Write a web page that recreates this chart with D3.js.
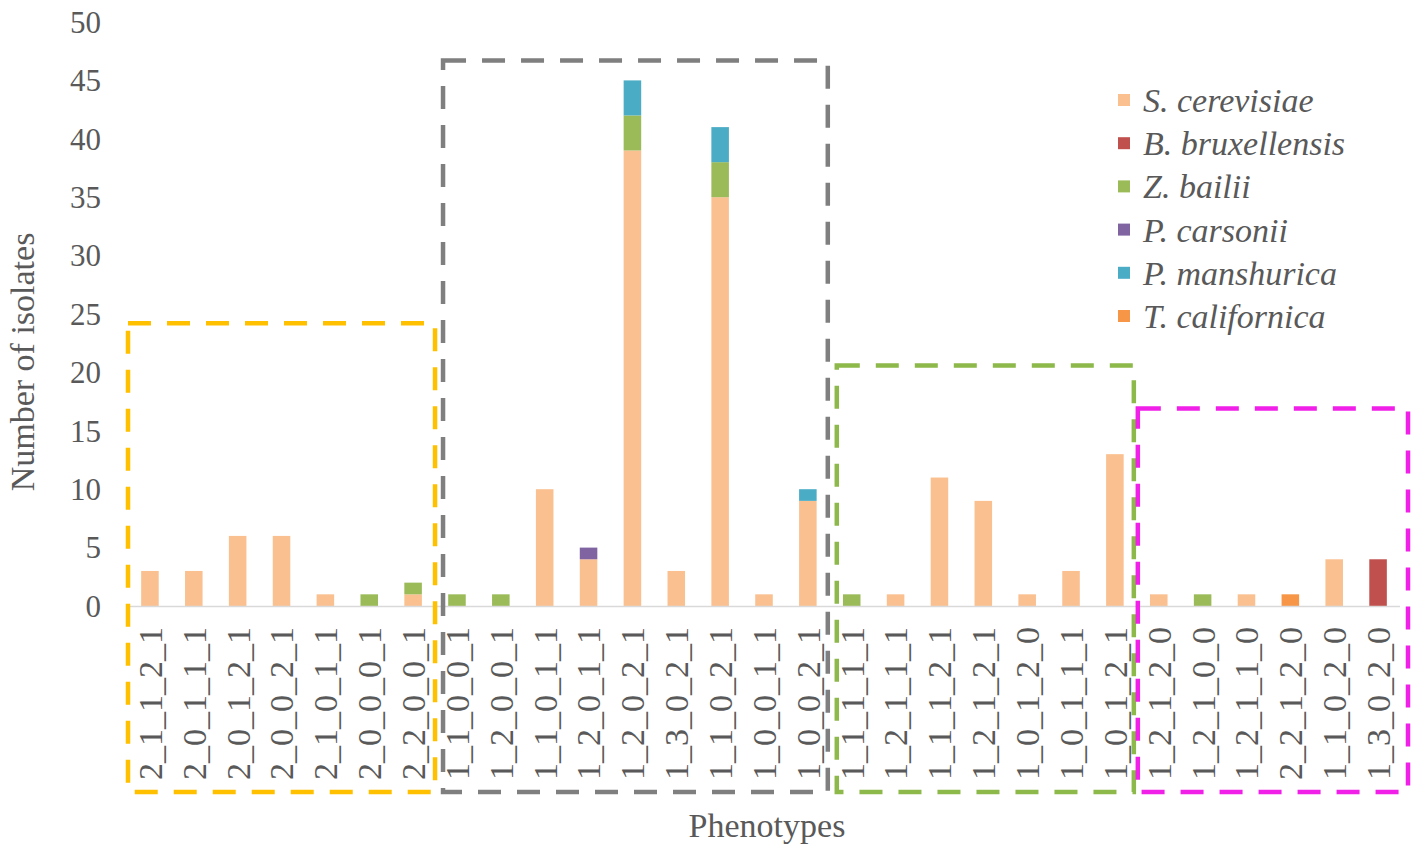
<!DOCTYPE html>
<html>
<head>
<meta charset="utf-8">
<script src="https://cdn.jsdelivr.net/npm/d3@7"></script>
<style>
  body { margin: 0; background: #fff; }
  svg text { font-family: "Liberation Serif", "Times New Roman", serif; fill: #595959; }
</style>
</head>
<body>
<svg id="chart" width="1418" height="851"></svg>
<script>
// Phenotype codes, in the order they appear on the x axis
const phenotypes = [
	"2_1_1_2_1", "2_0_1_1_1", "2_0_1_2_1", "2_0_0_2_1", "2_1_0_1_1", "2_0_0_0_1", "2_2_0_0_1",
	"1_1_0_0_1", "1_2_0_0_1", "1_1_0_1_1", "1_2_0_1_1", "1_2_0_2_1", "1_3_0_2_1", "1_1_0_2_1", "1_0_0_1_1", "1_0_0_2_1",
	"1_1_1_1_1", "1_2_1_1_1", "1_1_1_2_1", "1_2_1_2_1", "1_0_1_2_0", "1_0_1_1_1", "1_0_1_2_1",
	"1_2_1_2_0", "1_2_1_0_0", "1_2_1_1_0", "2_2_1_2_0", "1_1_0_2_0", "1_3_0_2_0"
];

const species = ["S. cerevisiae", "B. bruxellensis", "Z. bailii", "P. carsonii", "P. manshurica", "T. californica"];

// Number of isolates per species, one value per phenotype
const sCerevisiae   = [3, 3, 6, 6, 1, 0, 1,  0, 0, 10, 4, 39, 3, 35, 1, 9,  0, 1, 11, 9, 1, 3, 13,  1, 0, 1, 0, 4, 0];
const bBruxellensis = [0, 0, 0, 0, 0, 0, 0,  0, 0, 0, 0, 0, 0, 0, 0, 0,    0, 0, 0, 0, 0, 0, 0,    0, 0, 0, 0, 0, 4];
const zBailii       = [0, 0, 0, 0, 0, 1, 1,  1, 1, 0, 0, 3, 0, 3, 0, 0,    1, 0, 0, 0, 0, 0, 0,    0, 1, 0, 0, 0, 0];
const pCarsonii     = [0, 0, 0, 0, 0, 0, 0,  0, 0, 0, 1, 0, 0, 0, 0, 0,    0, 0, 0, 0, 0, 0, 0,    0, 0, 0, 0, 0, 0];
const pManshurica   = [0, 0, 0, 0, 0, 0, 0,  0, 0, 0, 0, 3, 0, 3, 0, 1,    0, 0, 0, 0, 0, 0, 0,    0, 0, 0, 0, 0, 0];
const tCalifornica  = [0, 0, 0, 0, 0, 0, 0,  0, 0, 0, 0, 0, 0, 0, 0, 0,    0, 0, 0, 0, 0, 0, 0,    0, 0, 0, 1, 0, 0];

const yTicks = [0, 5, 10, 15, 20, 25, 30, 35, 40, 45, 50];

// Phenotype groups framed by dashed boxes: first/last index and box top (in isolates)
const groupStart = [0, 7, 16, 23];
const groupEnd   = [6, 15, 22, 28];
const groupTop   = [24.2, 46.7, 20.6, 16.9];

const colors = ["#FAC090", "#C0504D", "#9BBB59", "#8064A2", "#4BACC6", "#F79646"];
const boxColors = ["#FFC000", "#7F7F7F", "#8DB84A", "#F020E8"];
const boxInset = [[0, 0], [8, -2], [7, -3], [1, 8]]; // hand-drawn look

const plot = {left: 128, right: 1400, top: 22, bottom: 606};

const svg = d3.select("#chart");

const x = d3.scaleBand()
		.domain(phenotypes)
		.range([plot.left, plot.right])
		.paddingInner(0.6)
		.paddingOuter(0.3);

const y = d3.scaleLinear()
		.domain([0, 50])
		.range([plot.bottom, plot.top]);

// Build rows for the stack
const table = phenotypes.map((p, i) => ({
	phenotype: p,
	"S. cerevisiae": sCerevisiae[i],
	"B. bruxellensis": bBruxellensis[i],
	"Z. bailii": zBailii[i],
	"P. carsonii": pCarsonii[i],
	"P. manshurica": pManshurica[i],
	"T. californica": tCalifornica[i]
}));

const stacked = d3.stack().keys(species)(table);

// Y tick labels (no axis line)
svg.append("g")
	.selectAll("text")
	.data(yTicks)
	.enter()
	.append("text")
		.attr("x", 101)
		.attr("y", d => y(d))
		.attr("dy", "0.35em")
		.attr("text-anchor", "end")
		.style("font-size", "31px")
		.text(d => d);

// Bars
svg.append("g")
	.selectAll("g")
	.data(stacked)
	.enter()
	.append("g")
		.attr("fill", (d, i) => colors[i])
	.selectAll("rect")
	.data(d => d)
	.enter()
	.append("rect")
		.attr("x", d => x(d.data.phenotype))
		.attr("width", x.bandwidth())
		.attr("y", d => y(d[1]))
		.attr("height", d => y(d[0]) - y(d[1]));

// Category axis line
svg.append("line")
	.attr("x1", plot.left)
	.attr("x2", plot.right)
	.attr("y1", y(0) + 0.5)
	.attr("y2", y(0) + 0.5)
	.attr("stroke", "#D9D9D9")
	.attr("stroke-width", 1.5);

// Rotated phenotype labels
svg.append("g")
	.selectAll("text")
	.data(phenotypes)
	.enter()
	.append("text")
		.attr("transform", d => `translate(${x(d) + x.bandwidth() / 2}, 627) rotate(-90)`)
		.attr("dy", "0.35em")
		.attr("text-anchor", "end")
		.style("font-size", "34px")
		.text(d => d);

// Dashed group boxes
const step = x.step();
svg.append("g")
	.selectAll("rect")
	.data(groupStart)
	.enter()
	.append("rect")
		.attr("x", (s, i) => plot.left + step * s + boxInset[i][0])
		.attr("y", (s, i) => y(groupTop[i]))
		.attr("width", (s, i) => step * (groupEnd[i] + 1 - s) - boxInset[i][0] + boxInset[i][1])
		.attr("height", (s, i) => 792 - y(groupTop[i]))
		.attr("fill", "none")
		.attr("stroke", (s, i) => boxColors[i])
		.attr("stroke-width", 4.5)
		.attr("stroke-dasharray", "23 16");

// Legend
const legend = svg.append("g")
		.selectAll("g")
		.data(species)
		.enter()
		.append("g")
			.attr("transform", (d, i) => `translate(1118, ${100 + i * 43.2})`);

legend.append("rect")
		.attr("x", 0)
		.attr("y", -6)
		.attr("width", 12)
		.attr("height", 12)
		.attr("fill", (d, i) => colors[i]);

legend.append("text")
		.attr("x", 25)
		.attr("dy", "0.35em")
		.style("font-size", "34px")
		.style("font-style", "italic")
		.text(d => d);

// Axis titles
svg.append("text")
		.attr("transform", "translate(22, 362) rotate(-90)")
		.attr("dy", "0.35em")
		.attr("text-anchor", "middle")
		.style("font-size", "34px")
		.text("Number of isolates");

svg.append("text")
		.attr("x", 767)
		.attr("y", 825)
		.attr("dy", "0.35em")
		.attr("text-anchor", "middle")
		.style("font-size", "34px")
		.text("Phenotypes");
</script>
</body>
</html>
